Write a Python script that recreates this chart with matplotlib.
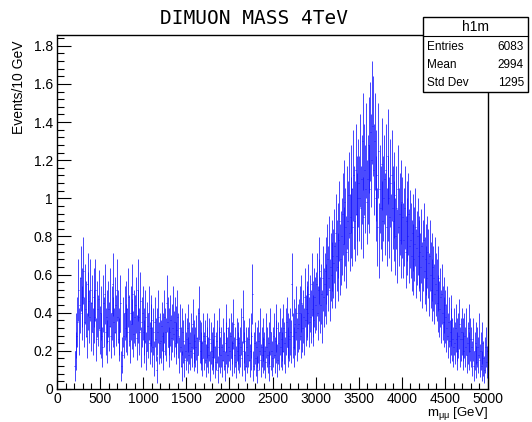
import numpy as np
import matplotlib
matplotlib.use("Agg")
import matplotlib.pyplot as plt
from matplotlib.ticker import MultipleLocator, FuncFormatter
from matplotlib.patches import Rectangle

# ---------------- data ----------------
bin_width = 10.0          # GeV
first_bin_low = 200.0     # GeV, first filled bin
x_min, x_max = 0, 5000
y_min, y_max = 0, 1.857

# Events/10 GeV, one row per 100 GeV starting at 200 GeV
counts = [
    0.12, 0.20, 0.28, 0.35, 0.52, 0.30, 0.44, 0.58, 0.40, 0.48,   # 200
    0.62, 0.35, 0.50, 0.42, 0.28, 0.55, 0.46, 0.38, 0.52, 0.33,   # 300
    0.45, 0.30, 0.48, 0.38, 0.52, 0.26, 0.42, 0.36, 0.47, 0.31,   # 400
    0.40, 0.28, 0.22, 0.45, 0.35, 0.50, 0.30, 0.38, 0.25, 0.42,   # 500
    0.33, 0.48, 0.28, 0.40, 0.55, 0.35, 0.30, 0.44, 0.36, 0.52,   # 600
    0.38, 0.26, 0.30, 0.45, 0.12, 0.18, 0.35, 0.28, 0.40, 0.32,   # 700
    0.42, 0.30, 0.48, 0.36, 0.25, 0.40, 0.34, 0.50, 0.29, 0.38,   # 800
    0.36, 0.44, 0.27, 0.52, 0.38, 0.30, 0.46, 0.22, 0.35, 0.40,   # 900
    0.30, 0.25, 0.38, 0.20, 0.33, 0.28, 0.40, 0.24, 0.32, 0.36,   # 1000
    0.22, 0.30, 0.16, 0.35, 0.26, 0.10, 0.30, 0.38, 0.24, 0.28,   # 1100
    0.25, 0.33, 0.28, 0.20, 0.38, 0.30, 0.26, 0.45, 0.35, 0.22,   # 1200
    0.30, 0.36, 0.27, 0.32, 0.40, 0.29, 0.35, 0.24, 0.31, 0.38,   # 1300
    0.28, 0.18, 0.32, 0.22, 0.12, 0.30, 0.25, 0.15, 0.28, 0.20,   # 1400
    0.26, 0.32, 0.18, 0.24, 0.20, 0.28, 0.22, 0.34, 0.19, 0.25,   # 1500
    0.22, 0.27, 0.18, 0.30, 0.40, 0.25, 0.20, 0.24, 0.16, 0.28,   # 1600
    0.20, 0.25, 0.15, 0.28, 0.22, 0.18, 0.26, 0.12, 0.24, 0.20,   # 1700
    0.17, 0.22, 0.28, 0.14, 0.20, 0.25, 0.10, 0.22, 0.30, 0.18,   # 1800
    0.22, 0.15, 0.26, 0.20, 0.12, 0.24, 0.32, 0.18, 0.22, 0.26,   # 1900
    0.20, 0.28, 0.16, 0.24, 0.34, 0.18, 0.22, 0.14, 0.26, 0.20,   # 2000
    0.24, 0.18, 0.22, 0.30, 0.16, 0.38, 0.20, 0.25, 0.12, 0.22,   # 2100
    0.18, 0.22, 0.26, 0.15, 0.20, 0.28, 0.50, 0.12, 0.20, 0.24,   # 2200
    0.16, 0.22, 0.10, 0.25, 0.20, 0.30, 0.15, 0.22, 0.18, 0.26,   # 2300
    0.20, 0.14, 0.28, 0.22, 0.18, 0.24, 0.12, 0.30, 0.20, 0.16,   # 2400
    0.22, 0.28, 0.18, 0.25, 0.32, 0.15, 0.24, 0.20, 0.30, 0.22,   # 2500
    0.26, 0.20, 0.32, 0.24, 0.18, 0.30, 0.35, 0.22, 0.28, 0.26,   # 2600
    0.30, 0.25, 0.55, 0.28, 0.22, 0.34, 0.30, 0.40, 0.26, 0.32,   # 2700
    0.34, 0.40, 0.28, 0.45, 0.32, 0.38, 0.30, 0.48, 0.36, 0.42,   # 2800
    0.40, 0.50, 0.35, 0.45, 0.38, 0.55, 0.42, 0.36, 0.48, 0.44,   # 2900
    0.46, 0.55, 0.40, 0.52, 0.62, 0.44, 0.50, 0.38, 0.58, 0.48,   # 3000
    0.55, 0.62, 0.50, 0.68, 0.58, 0.72, 0.52, 0.64, 0.60, 0.70,   # 3100
    0.66, 0.75, 0.60, 0.82, 0.70, 0.64, 0.78, 0.88, 0.68, 0.74,   # 3200
    0.80, 0.92, 0.76, 0.98, 0.85, 0.72, 0.95, 0.88, 1.02, 0.82,   # 3300
    0.90, 1.05, 0.85, 1.12, 0.95, 0.88, 1.15, 0.92, 1.00, 1.08,   # 3400
    1.00, 1.20, 0.95, 1.10, 1.30, 0.90, 1.15, 1.05, 1.25, 0.98,   # 3500
    1.10, 1.28, 1.05, 1.35, 1.20, 1.45, 1.38, 1.15, 1.30, 1.00,   # 3600
    1.12, 0.85, 1.25, 0.78, 1.05, 0.95, 1.18, 0.88, 1.00, 1.10,   # 3700
    0.92, 1.15, 0.85, 1.22, 1.00, 0.90, 1.08, 0.82, 1.12, 0.95,   # 3800
    0.88, 1.02, 0.80, 0.95, 0.75, 1.05, 0.85, 0.92, 0.78, 0.98,   # 3900
    0.90, 0.78, 0.85, 0.95, 0.72, 0.88, 0.80, 0.92, 0.75, 0.84,   # 4000
    0.78, 0.70, 0.82, 0.68, 0.76, 0.85, 0.66, 0.74, 0.80, 0.70,   # 4100
    0.72, 0.64, 0.75, 0.60, 0.70, 0.78, 0.62, 0.68, 0.58, 0.72,   # 4200
    0.66, 0.55, 0.70, 0.60, 0.52, 0.64, 0.58, 0.50, 0.62, 0.55,   # 4300
    0.52, 0.45, 0.58, 0.42, 0.48, 0.38, 0.50, 0.40, 0.35, 0.44,   # 4400
    0.38, 0.32, 0.40, 0.28, 0.35, 0.25, 0.30, 0.36, 0.26, 0.22,   # 4500
    0.30, 0.24, 0.32, 0.26, 0.20, 0.28, 0.34, 0.22, 0.26, 0.30,   # 4600
    0.26, 0.20, 0.28, 0.22, 0.30, 0.18, 0.24, 0.32, 0.20, 0.26,   # 4700
    0.22, 0.16, 0.26, 0.12, 0.20, 0.24, 0.14, 0.22, 0.18, 0.28,   # 4800
    0.15, 0.20, 0.12, 0.24, 0.16, 0.10, 0.18, 0.22, 0.14, 0.20,   # 4900
]
event_weight = 0.05   # per-entry weight, gives sqrt(sum w^2) errors

title = "DIMUON MASS 4TeV"
stats_name = "h1m"
stats_labels = ["Entries", "Mean", "Std Dev"]
stats_values = ["6083", "2994", "1295"]
x_label = r"m$_{\mu\mu}$ [GeV]"
y_label = "Events/10 GeV"

# ---------------- figure ----------------
W, H = 532, 422
fig = plt.figure(figsize=(W / 100, H / 100), dpi=100)
plt.rcParams['font.family'] = ['Liberation Sans', 'DejaVu Sans']
plt.rcParams['mathtext.fontset'] = 'custom'
plt.rcParams['mathtext.rm'] = 'Liberation Sans'
plt.rcParams['mathtext.it'] = 'Liberation Sans'

L, R, T, B = 57, 488, 35, 389
ax = fig.add_axes([L / W, 1 - B / H, (R - L) / W, (B - T) / H])

vals = np.array(counts)
centers = first_bin_low + bin_width * (np.arange(len(vals)) + 0.5)
errs = np.sqrt(vals * event_weight)

ax.errorbar(centers, vals, yerr=errs, xerr=bin_width / 2, fmt='none',
            ecolor='#1010ff', elinewidth=0.6, capsize=0, alpha=0.9)

ax.set_xlim(x_min, x_max)
ax.set_ylim(y_min, y_max)

ax.xaxis.set_major_locator(MultipleLocator(500))
ax.xaxis.set_minor_locator(MultipleLocator(100))
ax.yaxis.set_major_locator(MultipleLocator(0.2))
ax.yaxis.set_minor_locator(MultipleLocator(0.04))
ax.yaxis.set_major_formatter(FuncFormatter(lambda v, p: f"{v:g}"))
ax.xaxis.set_major_formatter(FuncFormatter(lambda v, p: f"{v:g}"))

ax.tick_params(axis='both', which='both', direction='in', top=False, right=False,
               labelsize=10, width=0.8, colors='black')
ax.tick_params(axis='x', which='major', length=9, pad=2)
ax.tick_params(axis='x', which='minor', length=4.5)
ax.tick_params(axis='y', which='major', length=10, pad=3)
ax.tick_params(axis='y', which='minor', length=5)
for s in ax.spines.values():
    s.set_linewidth(1.0)
    s.set_color('black')

ax.set_ylabel(y_label, loc='top', fontsize=10)
ax.yaxis.set_label_coords(-0.072, 0.985)
ax.set_xlabel(x_label, loc='right', fontsize=9.5)
ax.xaxis.set_label_coords(1.0, -0.044)

fig.text(254 / W, 1 - 18 / H, title, family='DejaVu Sans Mono', fontsize=14,
         ha='center', va='center')

# stats box
bx0, bx1, by0, by1, bsep = 423, 528, 17, 92, 36
fig.add_artist(Rectangle((bx0 / W, 1 - by1 / H), (bx1 - bx0) / W, (by1 - by0) / H,
                         transform=fig.transFigure, facecolor='white',
                         edgecolor='black', linewidth=1.0, zorder=5))
fig.add_artist(plt.Line2D([bx0 / W, bx1 / W], [1 - bsep / H, 1 - bsep / H],
                          transform=fig.transFigure, color='black', lw=0.8, zorder=6))
fig.text((bx0 + bx1) / 2 / W, 1 - 27 / H, stats_name, fontsize=10,
         ha='center', va='center', zorder=7)
row_y = [47, 65, 83]
for lab, val, yy in zip(stats_labels, stats_values, row_y):
    fig.text((bx0 + 4) / W, 1 - yy / H, lab, fontsize=8.5, ha='left', va='center', zorder=7)
    fig.text((bx1 - 4) / W, 1 - yy / H, val, fontsize=8.5, ha='right', va='center', zorder=7)

fig.savefig("out.png", dpi=100)
